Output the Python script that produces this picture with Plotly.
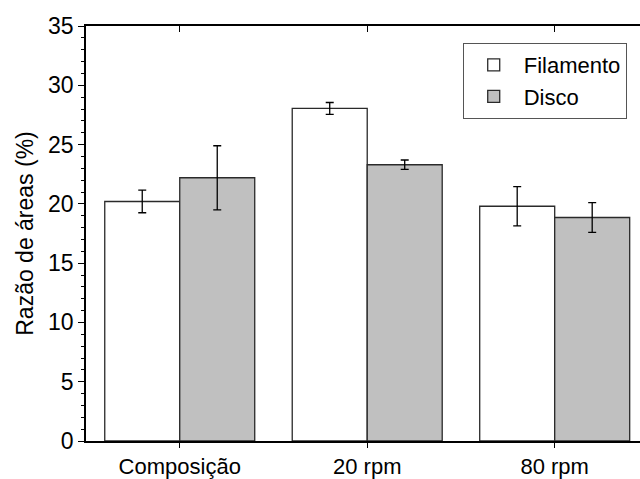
import plotly.graph_objects as go

categories = ["Composição", "20 rpm", "80 rpm"]
filamento = [20.2, 28.05, 19.8]
filamento_err = [0.95, 0.5, 1.65]
disco = [22.2, 23.3, 18.85]
disco_err = [2.7, 0.4, 1.25]
y_ticks = [0, 5, 10, 15, 20, 25, 30, 35]

FONT = "Liberation Sans, Arial, sans-serif"

fig = go.Figure()
fig.add_trace(go.Bar(
    name="Filamento", x=categories, y=filamento,
    marker=dict(color="white", line=dict(color="#2a2a2a", width=1.3)),
    error_y=dict(type="data", array=filamento_err, color="black", thickness=1.3, width=4),
))
fig.add_trace(go.Bar(
    name="Disco", x=categories, y=disco,
    marker=dict(color="#c0c0c0", line=dict(color="#2a2a2a", width=1.3)),
    error_y=dict(type="data", array=disco_err, color="black", thickness=1.3, width=4),
))
# helper trace for the top axis
fig.add_trace(go.Scatter(x=categories, y=[None] * 3, xaxis="x2", showlegend=False,
                         hoverinfo="skip", mode="markers"))

xr = [-0.5, 2.455]
fig.update_layout(
    width=640, height=479,
    margin=dict(l=86, r=0, t=26, b=38, autoexpand=False),
    paper_bgcolor="white", plot_bgcolor="white",
    font=dict(family=FONT, size=22, color="black"),
    barmode="group", bargap=0.2, bargroupgap=0,
    showlegend=True,
    legend=dict(x=0.68, y=0.959, xanchor="left", yanchor="top",
                bordercolor="#555", borderwidth=1, bgcolor="white",
                font=dict(family=FONT, size=22, color="black"),
                itemwidth=50, tracegroupgap=0),
    xaxis=dict(type="category", categoryorder="array", categoryarray=categories,
               range=xr, showline=True, linecolor="black", linewidth=2,
               ticks="outside", ticklen=5, tickwidth=1.3, tickcolor="black",
               showgrid=False, zeroline=False, automargin=False,
               tickfont=dict(family=FONT, size=22, color="black")),
    xaxis2=dict(type="category", categoryorder="array", categoryarray=categories,
                range=xr, overlaying="x", side="top", anchor="y",
                showline=True, linecolor="black", linewidth=1.5, automargin=False,
                ticks="inside", ticklen=6, tickwidth=1.3, tickcolor="black",
                showticklabels=False, showgrid=False, zeroline=False),
    yaxis=dict(range=[0, 35], tickvals=y_ticks, showline=True, linecolor="black",
               linewidth=1.5, ticks="outside", ticklen=6, tickwidth=1.3,
               tickcolor="black", showgrid=False, zeroline=False, automargin=False,
               minor=dict(dtick=1, ticks="outside", ticklen=3, tickwidth=1.2,
                          tickcolor="black", showgrid=False),
               tickfont=dict(family=FONT, size=23, color="black"),
               title=dict(text="Razão de áreas (%)", standoff=8,
                          font=dict(family=FONT, size=23, color="black"))),
)

fig.write_html("out.html")
